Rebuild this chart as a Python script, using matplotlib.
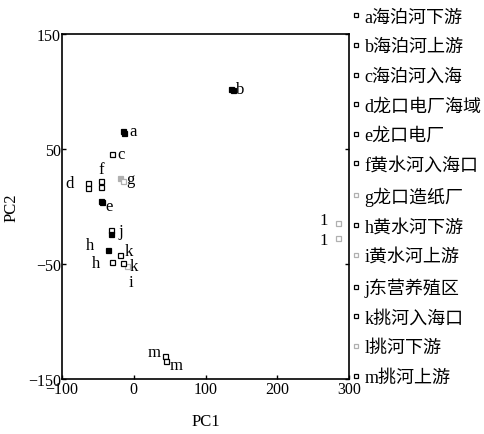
import matplotlib
matplotlib.use("Agg")
import matplotlib.pyplot as plt
from matplotlib.lines import Line2D

plt.rcParams['font.family'] = ['Liberation Serif', 'Noto Sans CJK SC']

# site codes and legend names
sites = ['a', 'b', 'c', 'd', 'e', 'f', 'g', 'h', 'i', 'j', 'k', 'l', 'm']
names = ['海泊河下游', '海泊河上游', '海泊河入海', '龙口电厂海域', '龙口电厂',
         '黄水河入海口', '龙口造纸厂', '黄水河下游', '黄水河上游', '东营养殖区',
         '挑河入海口', '挑河下游', '挑河上游']

# scores of each sample (two per site where visible)
pt_site = ['a', 'a', 'b', 'b', 'c', 'd', 'd', 'e', 'e', 'f', 'f', 'g', 'g',
           'h', 'h', 'i', 'j', 'j', 'k', 'k', 'l', 'l', 'm', 'm']
pc1 = [-15, -14, 136, 138, -31, -64, -64, -46, -45, -46, -46, -20, -15,
       -36, -30, -10, -32, -32, -20, -15, 284, 284, 44, 45]
pc2 = [66, 64, 102, 101, 46, 20, 16, 5, 4, 22, 17, 25, 22,
       -38, -48, -52, -20, -24, -42, -49, -14, -27, -130, -134]
pt_filled = [1, 1, 1, 1, 0, 0, 0, 1, 1, 0, 0, 1, 0,
             1, 0, 0, 0, 1, 0, 0, 0, 0, 0, 0]
light_sites = ['g', 'i', 'l']

# where each point label sits relative to its point (points)
lab_off = {0: (7, 0), 2: (6, 0), 4: (7, 0), 5: (-13, 0), 7: (6, -4),
           9: (0, 9), 11: (8, -1), 13: (-13, 4), 14: (-12, -1), 16: (7, -1),
           18: (7, 3), 19: (8, -2), 15: (3, -11),
           20: (-10, 2), 21: (-10, -2), 22: (-8, 3), 23: (7, -3)}
show_label = [0, 2, 4, 5, 7, 9, 11, 13, 14, 15, 16, 18, 19, 20, 21, 22, 23]

fig = plt.figure(figsize=(4.85, 4.35), dpi=100)
ax = fig.add_axes([0.128, 0.126, 0.592, 0.794])

for i, (x, y, s) in enumerate(zip(pc1, pc2, pt_site)):
    ec = '#b0b0b0' if s in light_sites else 'black'
    fc = ec if pt_filled[i] else 'white'
    ax.plot(x, y, marker='s', ms=3.6, mec=ec, mfc=fc, mew=0.9, ls='none')

for i in show_label:
    s = pt_site[i]
    txt = '1' if s == 'l' else s
    ax.annotate(txt, (pc1[i], pc2[i]), xytext=lab_off[i], textcoords='offset points',
                ha='center', va='center', fontsize=12)

ax.set_xlim(-100, 300)
ax.set_ylim(-150, 150)
ax.set_xticks([-100, 0, 100, 200, 300])
ax.set_yticks([-150, -50, 50, 150])
ax.tick_params(direction='in', length=3, width=1, labelsize=11.5, pad=1,
               top=False, right=True)
for sp in ax.spines.values():
    sp.set_linewidth(1.2)
ax.set_xlabel('PC1', fontsize=12, labelpad=12)
ax.set_ylabel('PC2', fontsize=12, labelpad=6)

handles = []
for s in sites:
    ec = '#b0b0b0' if s in light_sites else 'black'
    handles.append(Line2D([], [], marker='s', ms=3.2, mec=ec, mfc='white',
                          mew=0.9, ls='none'))
leg_labels = [s + n for s, n in zip(sites, names)]
fig.legend(handles, leg_labels, loc='upper left', bbox_to_anchor=(0.724, 0.978),
           frameon=False, fontsize=13, labelspacing=0.70, handlelength=0.5,
           handletextpad=0.25, borderpad=0, borderaxespad=0)

fig.savefig('out.png', dpi=100)
